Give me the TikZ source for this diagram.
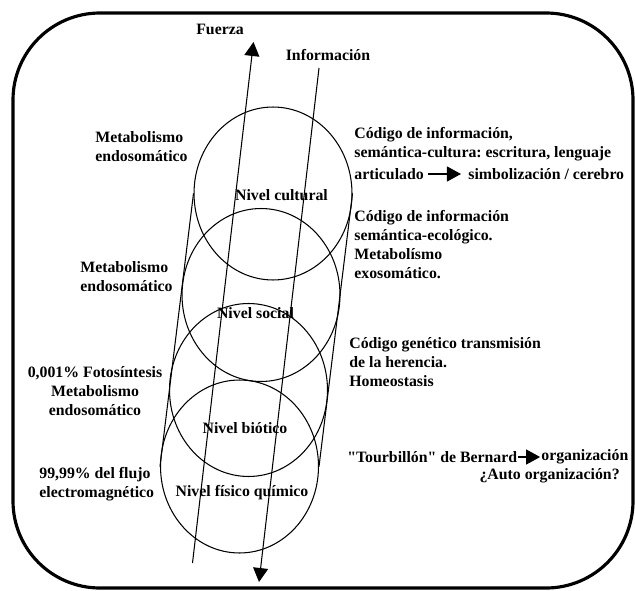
\documentclass[tikz,border=0pt]{standalone}
\usepackage{fontspec}
\setmainfont{Liberation Serif}[Ligatures=TeXOff]
\usetikzlibrary{arrows.meta,shapes.geometric}
\frenchspacing
\begin{document}
\begin{tikzpicture}[x=0.02cm,y=-0.02cm,
  txt/.style={font=\bfseries\fontsize{9}{10.8}\selectfont,inner sep=0pt},
  nivel/.style={draw,ellipse,line width=0.6pt,minimum width=3.16cm,minimum height=3.46cm,inner sep=0pt},
  flecha/.style={line width=0.6pt,-{Triangle[length=0.28cm,width=0.3cm]}}]
\useasboundingbox (0,0) rectangle (635,591);
\draw[line width=1.8pt,rounded corners=1.74cm] (13,13) rectangle (633,588);
\node[nivel] (cult) at (273,193.5) {};
\node[nivel] (soc) at (261,295) {};
\node[nivel] (bio) at (248.5,390) {};
\node[nivel] (fis) at (239.5,466.5) {};
\draw[line width=0.6pt] (cult.west)--(fis.west);
\draw[line width=0.6pt] (cult.east)--(fis.east);
\coordinate (f0) at (192.5,563);
\coordinate (f1) at (253.5,42);
\coordinate (i0) at (319,68);
\coordinate (i1) at (259,582);
\draw[flecha] (f0)--(f1);
\draw[flecha] (i0)--(i1);
\node[txt] (fuerza) at (220,29) {Fuerza};
\node[txt] (info) at (328,55) {Información};
\node[txt] (ncult) at (281.5,195) {Nivel cultural};
\node[txt] (nsoc) at (255.5,313) {Nivel social};
\node[txt] (nbio) at (245,428) {Nivel biótico};
\node[txt] (nfis) at (242,493) {Nivel físico químico};
\node[txt,anchor=west,align=left] (met1) at (95,147) {Metabolismo\\endosomático};
\node[txt,anchor=west,align=left] (met2) at (80,276.5) {Metabolismo\\endosomático};
\node[txt,align=center] (met3) at (95,391.5) {0,001\% Fotosíntesis\\Metabolismo\\endosomático};
\node[txt,anchor=west,align=left] (flujo) at (39,484) {99,99\% del flujo\\electromagnético};
\node[txt,anchor=west,align=left] (cod1) at (354,144) {Código de información,\\semántica-cultura: escritura, lenguaje};
\node[txt,anchor=west] (art) at (354,174) {articulado};
\node[txt,anchor=west] (simb) at (468,174) {simbolización / cerebro};
\draw[flecha,shorten <=2pt,shorten >=4pt] (art)--(simb);
\node[txt,anchor=west,align=left] (cod2) at (354,244.5) {Código de información\\semántica-ecológico.\\Metabolísmo\\exosomático.};
\node[txt,anchor=west,align=left] (cod3) at (349,362) {Código genético transmisión\\de la herencia.\\Homeostasis};
\node[txt,anchor=west] (tour) at (347,457) {"Tourbillón" de Bernard};
\node[txt,anchor=west] (org) at (541,457) {organización};
\draw[flecha,shorten <=0.5pt,shorten >=0.5pt] (tour)--(org);
\node[txt,anchor=east] (auto) at (620,476) {¿Auto organización?};
\end{tikzpicture}
\end{document}
